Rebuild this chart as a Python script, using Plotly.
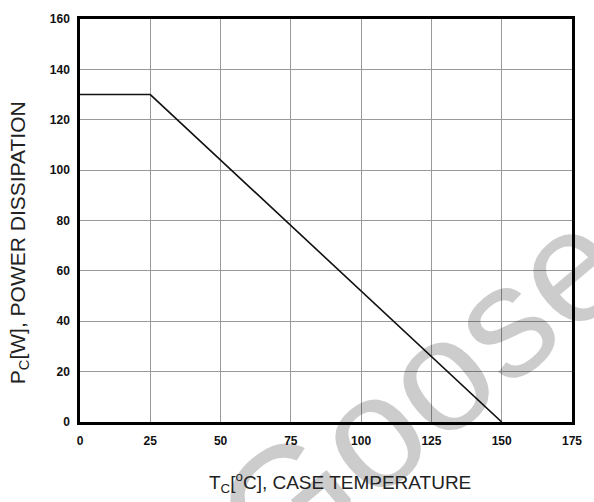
import plotly.graph_objects as go

# Data
temp_c = [0, 25, 150]
power_w = [130, 130, 0]
x_ticks = [0, 25, 50, 75, 100, 125, 150, 175]
y_ticks = [0, 20, 40, 60, 80, 100, 120, 140, 160]

fig = go.Figure()
fig.add_trace(go.Scatter(x=temp_c, y=power_w, mode="lines",
                         line=dict(color="#111111", width=1.6),
                         showlegend=False, hoverinfo="skip"))

tick_font = dict(family="Liberation Sans, Arial", size=12, color="#111111")

fig.update_layout(
    width=594, height=502,
    margin=dict(l=80, r=13, t=14, b=80),
    plot_bgcolor="white", paper_bgcolor="white",
    xaxis=dict(range=[0, 175], tickvals=x_ticks, ticktext=[f"<b>{v}</b>" for v in x_ticks],
               showgrid=True, gridcolor="#999999", gridwidth=1,
               showline=True, linecolor="black", linewidth=2.5, mirror=True,
               zeroline=False, ticks="", tickfont=tick_font, ticklabelstandoff=6),
    yaxis=dict(range=[0, 160], tickvals=y_ticks, ticktext=[f"<b>{v}</b>" for v in y_ticks],
               showgrid=True, gridcolor="#999999", gridwidth=1,
               showline=True, linecolor="black", linewidth=2.5, mirror=True,
               zeroline=False, ticks="", tickfont=tick_font, ticklabelstandoff=5),
    annotations=[
        dict(text="Goose", xref="paper", yref="paper",
             x=(427 - 80) / 501, y=(424 - 392) / 410, showarrow=False,
             textangle=-40, font=dict(family="Liberation Sans, Arial", size=160, color="rgba(0,0,0,0.2)"),
             xanchor="center", yanchor="middle"),
        dict(text="P<sub>C</sub>[W], POWER DISSIPATION", xref="paper", yref="paper",
             x=(18 - 80) / 501, y=(424 - 242) / 410, showarrow=False, textangle=-90,
             font=dict(family="Liberation Sans, Arial", size=21, color="#222222"),
             xanchor="center", yanchor="middle"),
        dict(text="T<sub>C</sub>[<sup>o</sup>C], CASE TEMPERATURE", xref="paper", yref="paper",
             x=(345 - 80) / 501, y=(424 - 486) / 410, showarrow=False,
             font=dict(family="Liberation Sans, Arial", size=19, color="#222222"),
             xanchor="center", yanchor="middle"),
    ],
)

fig.write_html("out.html")
